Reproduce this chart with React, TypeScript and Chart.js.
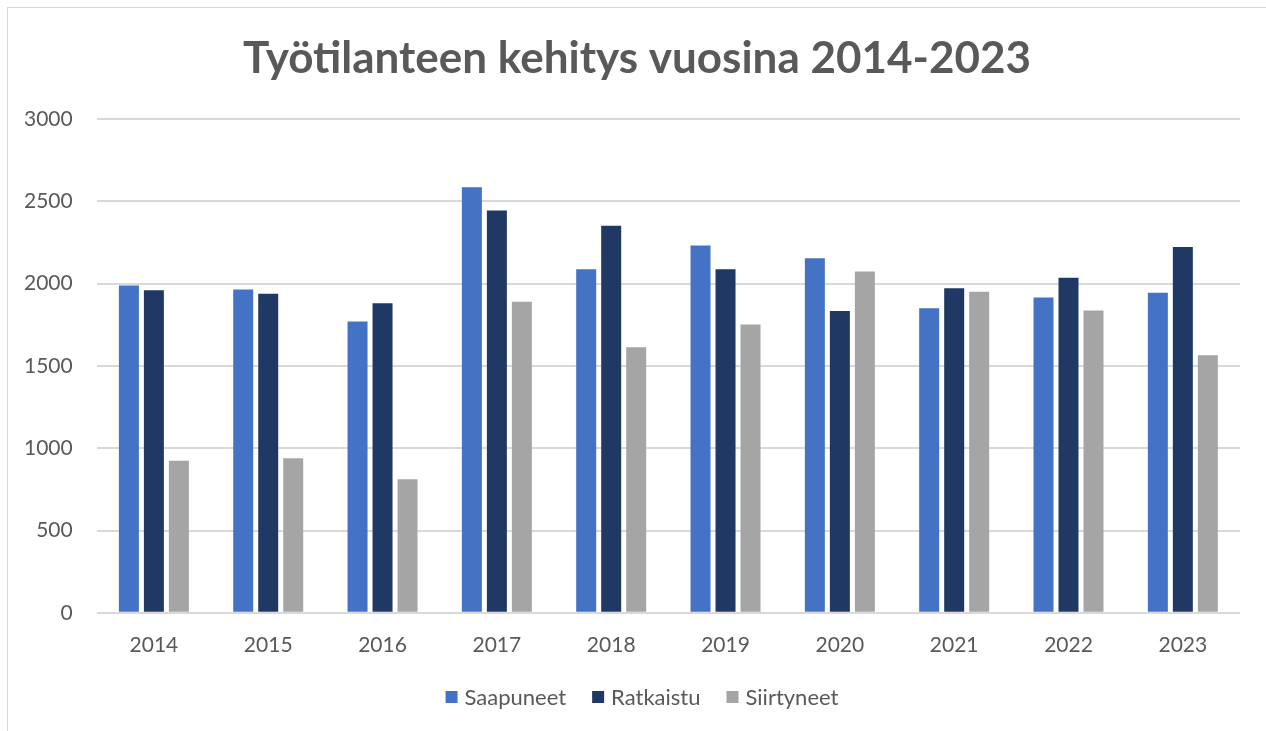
import React, { useEffect, useRef } from "react";
import { Chart, registerables } from "chart.js";

Chart.register(...registerables);

const years = ["2014", "2015", "2016", "2017", "2018", "2019", "2020", "2021", "2022", "2023"];
const saapuneet = [1988, 1964, 1769, 2586, 2087, 2231, 2154, 1850, 1915, 1945];
const ratkaistu = [1960, 1939, 1881, 2444, 2352, 2087, 1834, 1972, 2036, 2223];
const siirtyneet = [924, 939, 812, 1889, 1613, 1751, 2073, 1951, 1836, 1564];
const titleText = "Työtilanteen kehitys vuosina 2014-2023";

const FONT = "Lato, 'Open Sans', sans-serif";
const TEXT = "#595959";

const titleAndLegend = {
  id: "titleAndLegend",
  afterDraw(chart: any) {
    const ctx = chart.ctx as CanvasRenderingContext2D;
    ctx.save();
    // title
    ctx.fillStyle = TEXT;
    ctx.font = `bold 44px ${FONT}`;
    ctx.textAlign = "center";
    ctx.textBaseline = "alphabetic";
    ctx.fillText(titleText, 637, 73);
    // legend
    ctx.font = `22px ${FONT}`;
    ctx.textAlign = "left";
    ctx.textBaseline = "middle";
    const box = 12;
    const boxGap = 7;
    const itemGap = 26;
    const items = chart.data.datasets.map((d: any) => ({
      label: d.label as string,
      color: d.backgroundColor as string,
      w: box + boxGap + ctx.measureText(d.label).width,
    }));
    const total = items.reduce((s: number, it: any) => s + it.w, 0) + itemGap * (items.length - 1);
    let x = 642 - total / 2;
    const cy = 697;
    for (const it of items) {
      ctx.fillStyle = it.color;
      ctx.fillRect(x, cy - box / 2, box, box);
      ctx.fillStyle = TEXT;
      ctx.fillText(it.label, x + box + boxGap, cy + 1);
      x += it.w + itemGap;
    }
    ctx.restore();
  },
};

export default function App() {
  const ref = useRef<HTMLCanvasElement | null>(null);
  useEffect(() => {
    if (!ref.current) return;
    const chart = new Chart(ref.current, {
      type: "bar",
      data: {
        labels: years,
        datasets: [
          { label: "Saapuneet", data: saapuneet, backgroundColor: "#4472C4" },
          { label: "Ratkaistu", data: ratkaistu, backgroundColor: "#203864" },
          { label: "Siirtyneet", data: siirtyneet, backgroundColor: "#A5A5A5" },
        ],
      },
      plugins: [titleAndLegend],
      options: {
        responsive: false,
        animation: false,
        layout: { padding: { left: 0, right: 26, top: 119, bottom: 61 } },
        datasets: { bar: { categoryPercentage: 0.656, barPercentage: 0.8 } },
        plugins: {
          title: { display: false },
          legend: { display: false },
          tooltip: { enabled: false },
        },
        scales: {
          x: {
            grid: { display: false },
            border: { display: false },
            ticks: { color: TEXT, font: { family: FONT, size: 21 }, padding: 12 },
          },
          y: {
            min: 0,
            max: 3000,
            grid: { color: "#d9d9d9", lineWidth: 2, drawTicks: false },
            border: { display: false },
            ticks: {
              stepSize: 500,
              color: TEXT,
              font: { family: FONT, size: 21 },
              padding: 24,
              callback: (v: any) => String(v),
            },
          },
        },
      },
    });
    return () => chart.destroy();
  }, []);
  return (
    <div style={{ position: "fixed", left: 0, top: 0, width: 1266, height: 731, background: "#fff" }}>
      <div
        style={{
          position: "absolute",
          left: 7,
          top: 7,
          width: 1270,
          height: 740,
          border: "1.5px solid #d9d9d9",
          boxSizing: "border-box",
        }}
      />
      <canvas ref={ref} width={1266} height={731} style={{ position: "absolute", left: 0, top: 0 }} />
    </div>
  );
}
